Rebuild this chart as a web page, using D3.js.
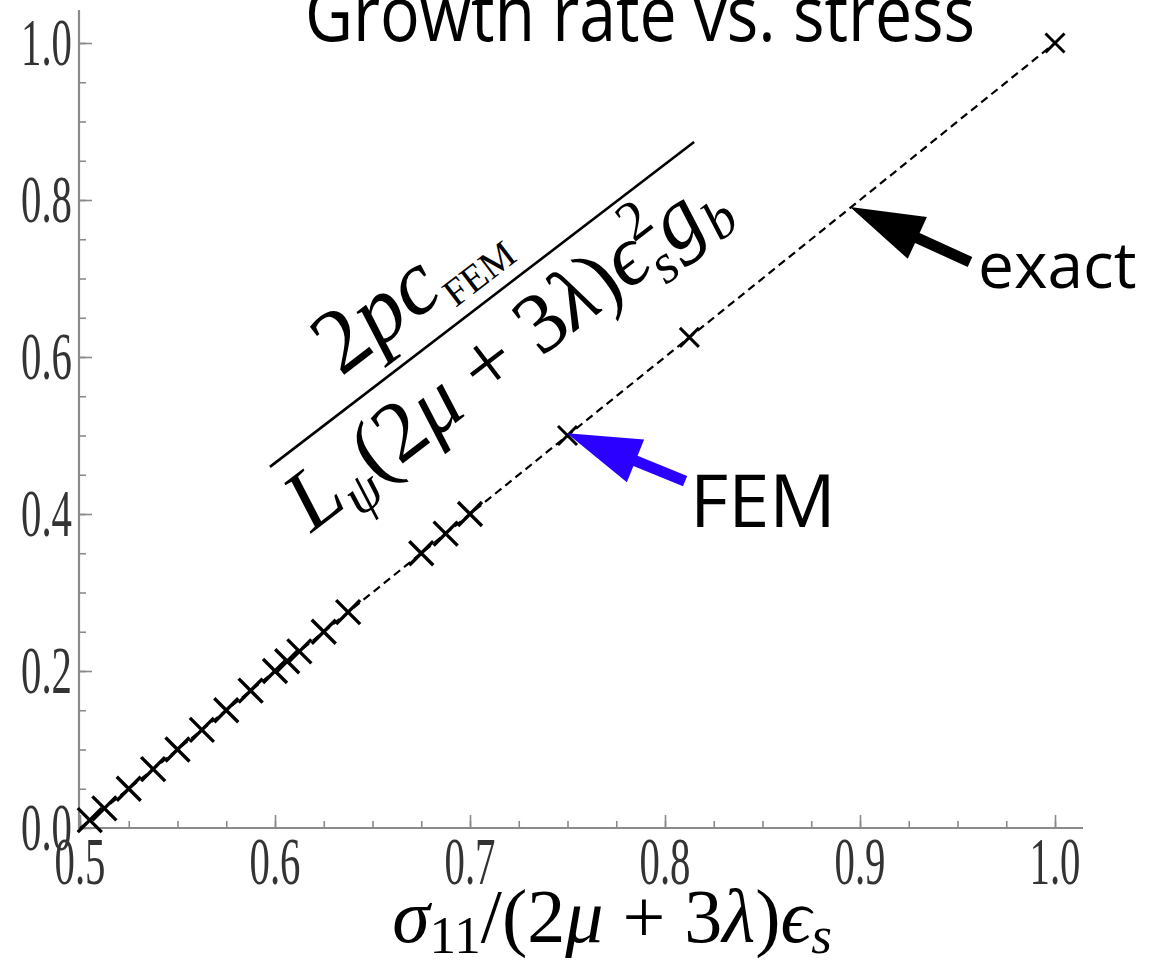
<!DOCTYPE html>
<html><head><meta charset="utf-8">
<script src="https://cdn.jsdelivr.net/npm/d3@7"></script>
<style>body{margin:0;background:#fff}svg{display:block}</style>
</head><body>
<svg id="c" width="1157" height="967"></svg>
<script>
// ---- data ----
const xTickValues = [0.5, 0.6, 0.7, 0.8, 0.9, 1.0];
const xTickLabels = ["0.5", "0.6", "0.7", "0.8", "0.9", "1.0"];
const yTickValues = [0.0, 0.2, 0.4, 0.6, 0.8, 1.0];
const yTickLabels = ["0.0", "0.2", "0.4", "0.6", "0.8", "1.0"];
const femX = [0.505, 0.5125, 0.525, 0.5375, 0.55, 0.5625, 0.575, 0.5875, 0.6, 0.60625, 0.6125, 0.625, 0.6375, 0.675, 0.6875, 0.7, 0.75, 0.8125, 1.0];
const femY = [0.01, 0.025, 0.05, 0.075, 0.1, 0.125, 0.15, 0.175, 0.2, 0.2125, 0.225, 0.25, 0.275, 0.35, 0.375, 0.4, 0.5, 0.625, 1.0];
const exactX = [0.5, 1.0];
const exactY = [0.0, 1.0];
const titleText = "Growth rate vs. stress";
// annotation anchors in data units: [tail x, tail y, tip x, tip y]
const arrowExact = [0.9564, 0.721, 0.8949, 0.791];
const arrowFEM = [0.8103, 0.442, 0.7497, 0.503];
const labelExactPos = [0.9605, 0.688];
const labelFEMPos = [0.8128, 0.383];
const fractionLine = [0.5974, 0.46, 0.8149, 0.874];

const svg = d3.select("#c");
const x = d3.scaleLinear().domain([0.5, 1.0]).range([80, 1055]);
const y = d3.scaleLinear().domain([0, 1.0]).range([828, 43]);
const axisCol = "#8a8a8a";

// title (clipped at top, as in the original)
svg.append("g").attr("transform", "translate(640,41)")
  .append("text").attr("text-anchor", "middle").attr("transform", "scale(0.87,1)")
  .attr("font-family", "Open Sans").attr("font-size", 76).attr("fill", "#000").text(titleText);

// axes
const gx = svg.append("g").attr("transform", "translate(0,828)");
gx.call(d3.axisBottom(x).tickValues(d3.range(0.5, 1.001, 0.025)).tickSize(-7).tickFormat(""));
gx.call(g => g.append("g").call(d3.axisBottom(x).tickValues(xTickValues).tickSize(-13).tickFormat("")));
gx.selectAll(".domain").remove();
gx.selectAll("line").attr("stroke", axisCol).attr("stroke-width", 1.6);
gx.append("line").attr("x1", 79).attr("x2", 1083).attr("stroke", axisCol).attr("stroke-width", 2.2);

const gy = svg.append("g").attr("transform", "translate(79,0)");
gy.call(d3.axisLeft(y).tickValues(d3.range(0, 1.001, 0.05)).tickSize(-7).tickFormat(""));
gy.call(g => g.append("g").call(d3.axisLeft(y).tickValues(yTickValues).tickSize(-13).tickFormat("")));
gy.selectAll(".domain").remove();
gy.selectAll("line").attr("stroke", axisCol).attr("stroke-width", 1.6);
gy.append("line").attr("y1", 10).attr("y2", 829).attr("stroke", axisCol).attr("stroke-width", 2.2);

// tick labels (condensed serif)
svg.append("g").selectAll("g").data(xTickValues).join("g")
  .attr("transform", d => `translate(${x(d)},884)`)
  .append("text").attr("text-anchor", "middle").attr("transform", "scale(0.6,1)")
  .attr("font-family", "Liberation Serif").attr("font-size", 68).attr("fill", "#333")
  .text((d, i) => xTickLabels[i]);
svg.append("g").selectAll("g").data(yTickValues).join("g")
  .attr("transform", d => `translate(72,${y(d) + 22})`)
  .append("text").attr("text-anchor", "end").attr("transform", "scale(0.6,1)")
  .attr("font-family", "Liberation Serif").attr("font-size", 68).attr("fill", "#333")
  .text((d, i) => yTickLabels[i]);

// exact dashed line
const exactPts = exactX.map((v, i) => [v, exactY[i]]);
svg.append("path").attr("d", d3.line().x(d => x(d[0])).y(d => y(d[1]))(exactPts))
  .attr("fill", "none").attr("stroke", "#000").attr("stroke-width", 2.2).attr("stroke-dasharray", "8,5");

// FEM markers
const femPts = femX.map((v, i) => [v, femY[i]]);
svg.append("g").selectAll("path").data(femPts).join("path")
  .attr("transform", d => `translate(${x(d[0])},${y(d[1])})`)
  .attr("d", d => { const s = d[0] < 0.71 ? 12 : 9.5; return `M${-s},${-s}L${s},${s}M${-s},${s}L${s},${-s}`; })
  .attr("stroke", "#000").attr("stroke-width", d => d[0] < 0.71 ? 3.4 : 3).attr("fill", "none");

// arrows
function arrow(a, color) {
  const x0 = x(a[0]), y0 = y(a[1]), x1 = x(a[2]), y1 = y(a[3]);
  const dx = x1 - x0, dy = y1 - y0, L = Math.hypot(dx, dy);
  const ux = dx / L, uy = dy / L, nx = -uy, ny = ux;
  const hl = 74, hw = 23, sw = 5.5;
  const bx = x1 - ux * hl, by = y1 - uy * hl;
  const pts = [
    [x0 + nx * sw, y0 + ny * sw], [bx + nx * sw, by + ny * sw], [bx + nx * hw, by + ny * hw],
    [x1, y1], [bx - nx * hw, by - ny * hw], [bx - nx * sw, by - ny * sw], [x0 - nx * sw, y0 - ny * sw]];
  svg.append("polygon").attr("points", pts.map(p => p.join(",")).join(" ")).attr("fill", color);
}
arrow(arrowExact, "#000");
arrow(arrowFEM, "#2b00ff");

svg.append("text").attr("x", x(labelExactPos[0])).attr("y", y(labelExactPos[1]))
  .attr("font-family", "Open Sans").attr("font-size", 64).attr("fill", "#000").text("exact");
svg.append("text").attr("x", x(labelFEMPos[0])).attr("y", y(labelFEMPos[1]))
  .attr("font-family", "Open Sans").attr("font-size", 74).attr("fill", "#000").text("FEM");

// rich math text helper
function rich(sel, segs, size) {
  segs.forEach(s => {
    const t = sel.append("tspan").text(s.t)
      .attr("font-style", s.i ? "italic" : "normal")
      .attr("font-size", s.sz ? size * s.sz : size);
    if (s.dy) t.attr("dy", s.dy * size);
    if (s.dx) t.attr("dx", s.dx * size);
    if (s.sc) t.attr("font-variant", "small-caps");
  });
}

// fraction annotation
const fx0 = x(fractionLine[0]), fy0 = y(fractionLine[1]), fx1 = x(fractionLine[2]), fy1 = y(fractionLine[3]);
const ang = Math.atan2(fy1 - fy0, fx1 - fx0) * 180 / Math.PI;
const half = Math.hypot(fx1 - fx0, fy1 - fy0) / 2;
const fg = svg.append("g").attr("transform", `translate(${(fx0 + fx1) / 2},${(fy0 + fy1) / 2}) rotate(${ang})`);
fg.append("line").attr("x1", -half).attr("x2", half).attr("stroke", "#000").attr("stroke-width", 2.6);
const num = fg.append("text").attr("x", -50).attr("y", -28).attr("text-anchor", "middle")
  .attr("font-family", "Liberation Serif").attr("fill", "#000");
rich(num, [{t: "2"}, {t: "pc", i: true}, {t: "FEM", sz: 0.42, dy: 0.16}], 92);
const den = fg.append("text").attr("x", -10).attr("y", 78).attr("text-anchor", "middle")
  .attr("font-family", "Liberation Serif").attr("fill", "#000");
rich(den, [
  {t: "L", i: true}, {t: "ψ", i: true, sz: 0.65, dy: 0.2}, {t: "(2", dy: -0.2}, {t: "μ", i: true},
  {t: " + 3"}, {t: "λ", i: true}, {t: ")"}, {t: "ϵ", i: true},
  {t: "2", sz: 0.65, dy: -0.4}, {t: "s", i: true, sz: 0.65, dy: 0.62, dx: -0.33},
  {t: "g", i: true, dy: -0.22, dx: 0.05}, {t: "b", i: true, sz: 0.65, dy: 0.2}], 86);

// x axis label
const xl = svg.append("text").attr("x", 612).attr("y", 942).attr("text-anchor", "middle")
  .attr("font-family", "Liberation Serif").attr("fill", "#000");
rich(xl, [{t: "σ", i: true}, {t: "11", sz: 0.7, dy: 0.15}, {t: "/(2", dy: -0.15}, {t: "μ", i: true},
  {t: " + 3"}, {t: "λ", i: true}, {t: ")"}, {t: "ϵ", i: true}, {t: "s", i: true, sz: 0.7, dy: 0.15}], 76);
</script>
</body></html>
